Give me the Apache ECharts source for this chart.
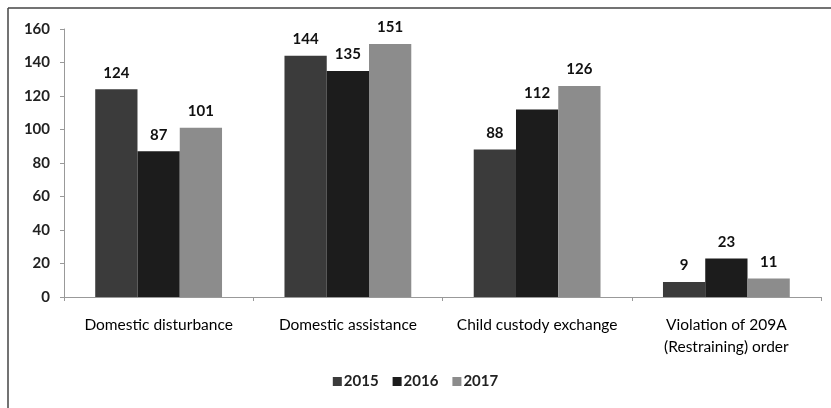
<!DOCTYPE html>
<html>
<head>
<meta charset="utf-8">
<script src="https://cdn.jsdelivr.net/npm/echarts@6/dist/echarts.min.js"></script>
<style>
  html, body { margin: 0; padding: 0; background: #fff; }
  #chart { width: 831px; height: 408px; }
</style>
</head>
<body>
<div id="chart"></div>
<script>
// Incident types and yearly counts
const categories = [
  'Domestic disturbance',
  'Domestic assistance',
  'Child custody exchange',
  'Violation of 209A\n(Restraining) order'
];
const years = ['2015', '2016', '2017'];
const values2015 = [124, 144, 88, 9];
const values2016 = [87, 135, 112, 23];
const values2017 = [101, 151, 126, 11];
const yTicks = [0, 20, 40, 60, 80, 100, 120, 140, 160];

const colors = ['#3b3b3b', '#1c1c1c', '#8c8c8c'];
const fontFamily = 'Lato, "Open Sans", sans-serif';

const seriesData = [values2015, values2016, values2017];

const chart = echarts.init(document.getElementById('chart'));
chart.setOption({
  animation: false,
  backgroundColor: '#ffffff',
  textStyle: { fontFamily: fontFamily },
  graphic: [
    { type: 'line', shape: { x1: 8, y1: 8, x2: 831, y2: 8 }, style: { stroke: '#444', lineWidth: 1.5 } },
    { type: 'line', shape: { x1: 8, y1: 8, x2: 8, y2: 408 }, style: { stroke: '#444', lineWidth: 1.5 } }
  ],
  grid: { left: 64, right: 10, top: 29, bottom: 111, containLabel: false },
  legend: {
    bottom: 14,
    left: 'center',
    itemWidth: 9,
    itemHeight: 9,
    itemGap: 14,
    icon: 'rect',
    textStyle: { fontSize: 15, fontWeight: 'bold', color: '#222', fontFamily: fontFamily, padding: [0, 0, 0, -3] },
    data: years
  },
  xAxis: {
    type: 'category',
    data: categories,
    axisLine: { show: true, lineStyle: { color: '#999' } },
    axisTick: { show: true, length: 4, lineStyle: { color: '#999' } },
    axisLabel: { interval: 0, fontSize: 15.5, color: '#000', margin: 17, lineHeight: 22, fontFamily: fontFamily }
  },
  yAxis: {
    type: 'value',
    min: yTicks[0],
    max: yTicks[yTicks.length - 1],
    interval: 20,
    splitLine: { show: false },
    axisLine: { show: true, lineStyle: { color: '#999' } },
    axisTick: { show: true, length: 4, lineStyle: { color: '#999' } },
    axisLabel: { fontSize: 15, fontWeight: 'bold', color: '#222', margin: 14, fontFamily: fontFamily }
  },
  series: years.map((y, i) => ({
    name: y,
    type: 'bar',
    data: seriesData[i],
    barGap: '0%',
    barCategoryGap: '33%',
    itemStyle: { color: colors[i] },
    label: {
      show: true,
      position: 'top',
      distance: 9,
      fontSize: 15,
      fontWeight: 'bold',
      color: '#111',
      fontFamily: fontFamily
    }
  }))
});
</script>
</body>
</html>
